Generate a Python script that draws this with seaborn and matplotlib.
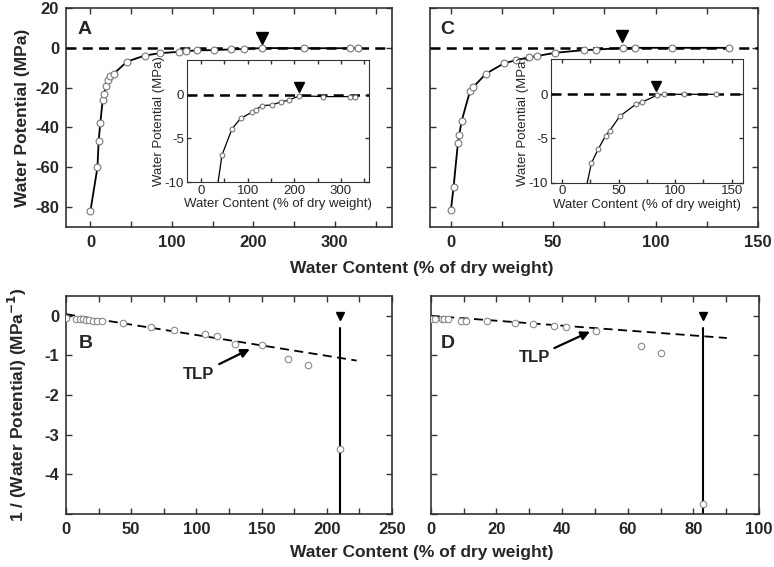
import matplotlib
matplotlib.use("Agg")
import matplotlib.pyplot as plt
import seaborn as sns
from matplotlib.ticker import MultipleLocator
from matplotlib.transforms import offset_copy

# A: water potential (MPa) vs water content (% dry weight), sample 1
wc_A = [0, 8.6, 10, 12, 15, 17, 19, 21.6, 24.5, 28.6, 45, 66.5, 85, 109, 117.6,
        131, 152, 172, 189, 211, 262, 319, 329]
psi_A = [-81.8, -60, -47, -38, -26.4, -23, -19, -16, -14, -13, -6.9, -3.9, -2.7,
         -2.0, -1.7, -1.25, -1.15, -0.8, -0.6, -0.1, -0.2, -0.2, -0.2]
tlp_A = 210

# C: sample 2
wc_C = [0.2, 1.5, 3.6, 4.2, 5.4, 9.5, 11, 17.3, 26, 31.8, 38.5, 42, 51, 65, 71,
        84, 90, 108, 136]
psi_C = [-81.4, -69.7, -47.8, -44, -36.8, -21.7, -19.8, -13, -7.8, -6.25, -4.7,
         -4.15, -2.5, -1.15, -0.87, -0.1, 0, 0, 0]
tlp_C = 83.5

# B: 1/psi vs water content, sample 1
wc_B = [0, 8, 10.5, 13, 15, 18, 21, 24, 27.5, 44, 65, 83, 107, 116, 130, 150,
        170, 186, 210]
inv_B = [-0.06, -0.07, -0.08, -0.09, -0.1, -0.11, -0.12, -0.13, -0.14, -0.19,
         -0.29, -0.37, -0.46, -0.52, -0.71, -0.73, -1.08, -1.24, -3.37]
fit_B_x = [0, 223]
fit_B_y = [0.04, -1.13]
tlp_B_point = (141, -0.84)
tlp_B_text = (102, -1.47)

# D: 1/psi vs water content, sample 2
wc_D = [0, 1.3, 3.4, 4.1, 5.2, 9.2, 10.7, 17, 25.7, 31.3, 37.6, 41.2, 50.5,
        64, 70.3, 83]
inv_D = [-0.075, -0.075, -0.08, -0.08, -0.085, -0.12, -0.12, -0.14, -0.18, -0.21,
         -0.25, -0.28, -0.39, -0.76, -0.95, -4.75]
fit_D_x = [0, 90.2]
fit_D_y = [0.0, -0.56]
tlp_D_point = (48.5, -0.4)
tlp_D_text = (31.5, -1.05)

xlabel = "Water Content (% of dry weight)"

sns.set_style("ticks")
plt.rcParams["font.family"] = ["Liberation Sans", "DejaVu Sans"]
plt.rcParams["axes.edgecolor"] = "#333333"
plt.rcParams["axes.unicode_minus"] = False

fig = plt.figure(figsize=(7.74, 5.67), dpi=100)


def style(ax, major_x, minor_x, major_y, fs=12, bold=True, lw=1.2, length=4):
    ax.xaxis.set_major_locator(MultipleLocator(major_x))
    ax.xaxis.set_minor_locator(MultipleLocator(minor_x))
    ax.yaxis.set_major_locator(MultipleLocator(major_y))
    ax.tick_params(which="both", direction="in", top=True, right=True,
                   length=length, width=1, color="#333333")
    ax.tick_params(axis="x", pad=6 if bold else 2)
    ax.tick_params(axis="y", pad=5 if bold else 2)
    for lab in ax.get_xticklabels() + ax.get_yticklabels():
        lab.set_fontsize(fs)
        lab.set_fontweight("bold" if bold else "normal")
    for sp in ax.spines.values():
        sp.set_linewidth(lw)
        sp.set_visible(True)


def curve(ax, x, y, tlp, s, lw, mark_up, tri_size):
    sns.lineplot(x=x, y=y, ax=ax, color="black", lw=lw, sort=False,
                 estimator=None, zorder=2)
    ax.axhline(0, color="black", lw=1.8, dashes=(4, 2.5), zorder=3)
    sns.scatterplot(x=x, y=y, ax=ax, s=s, color="white", edgecolor="#777777",
                    linewidth=0.8, zorder=4)
    tr = offset_copy(ax.transData, fig=fig, y=mark_up, units="dots")
    ax.plot([tlp], [0], marker="v", color="black", markersize=tri_size,
            transform=tr, clip_on=False, zorder=5)
    ax.set_xlabel("")
    ax.set_ylabel("")


# ---- panel A
axA = fig.add_axes([0.0853, 0.5996, 0.421, 0.3863])
curve(axA, wc_A, psi_A, tlp_A, 24, 1.3, 10, 8)
axA.set_xlim(-30, 370)
axA.set_ylim(-90, 20)
style(axA, 100, 50, 20)
axA.text(0.035, 0.9, "A", transform=axA.transAxes, fontsize=14,
         fontweight="bold", va="center")
axA.set_ylabel("Water Potential (MPa)", fontsize=12.5, fontweight="bold",
               labelpad=4)

insA = fig.add_axes([0.2416, 0.679, 0.2351, 0.2152])
curve(insA, wc_A, psi_A, tlp_A, 12, 0.9, 8, 7)
insA.set_xlim(-30, 360)
insA.set_ylim(-10, 4)
style(insA, 100, 50, 5, fs=9.5, bold=False, lw=0.8, length=3)
insA.set_yticks([-10, -5, 0])
insA.set_xlabel(xlabel, fontsize=9.5, labelpad=1)
insA.set_ylabel("Water Potential (MPa)", fontsize=9.5, labelpad=0)

# ---- panel C
axC = fig.add_axes([0.5556, 0.5996, 0.4238, 0.3863])
curve(axC, wc_C, psi_C, tlp_C, 24, 1.3, 12, 8)
axC.set_xlim(-10, 150)
axC.set_ylim(-90, 20)
style(axC, 50, 25, 20)
axC.set_yticklabels([])
axC.text(0.03, 0.9, "C", transform=axC.transAxes, fontsize=14,
         fontweight="bold", va="center")

insC = fig.add_axes([0.7115, 0.678, 0.2485, 0.218])
curve(insC, wc_C, psi_C, tlp_C, 12, 0.9, 8, 7)
insC.set_xlim(-10, 160)
insC.set_ylim(-10, 4)
style(insC, 50, 25, 5, fs=9.5, bold=False, lw=0.8, length=3)
insC.set_yticks([-10, -5, 0])
insC.set_xlabel(xlabel, fontsize=9.5, labelpad=1)
insC.set_ylabel("Water Potential (MPa)", fontsize=9.5, labelpad=0)


def inverse_panel(ax, x, y, fx, fy, tlp_pt, tlp_txt):
    sns.lineplot(x=fx, y=fy, ax=ax, color="black", lw=1.3, sort=False,
                 estimator=None, zorder=2).lines[0].set_dashes((5, 3))
    ax.axvline(x[-1], ymax=(-0.3 + 5) / 5.5, color="black", lw=1.5, zorder=2)
    ax.plot([x[-1]], [0], marker="v", color="black", markersize=6, zorder=5)
    sns.scatterplot(x=x, y=y, ax=ax, s=22, color="white", edgecolor="#8a8a8a",
                    linewidth=0.8, zorder=4)
    ax.annotate("TLP", xy=tlp_pt, xytext=tlp_txt, ha="center", va="center",
                fontsize=12, fontweight="bold",
                arrowprops=dict(arrowstyle="-|>", color="black", lw=1.6,
                                mutation_scale=13, shrinkA=1, shrinkB=0))
    ax.set_ylim(-5, 0.5)
    ax.set_xlabel("")
    ax.set_ylabel("")


# ---- panel B
axB = fig.add_axes([0.0853, 0.0935, 0.421, 0.3845])
inverse_panel(axB, wc_B, inv_B, fit_B_x, fit_B_y, tlp_B_point, tlp_B_text)
axB.set_xlim(0, 250)
style(axB, 50, 25, 1)
axB.set_yticks([-4, -3, -2, -1, 0])
axB.yaxis.set_minor_locator(MultipleLocator(1))
for lab in axB.get_yticklabels():
    lab.set_fontsize(12)
    lab.set_fontweight("bold")
axB.text(0.04, 0.78, "B", transform=axB.transAxes, fontsize=14,
         fontweight="bold", va="center")
axB.set_ylabel("1 / (Water Potential) (MPa$^{\\mathbf{-1}}$)", fontsize=12.5,
               fontweight="bold", labelpad=11)

# ---- panel D
axD = fig.add_axes([0.5565, 0.0935, 0.4241, 0.3845])
inverse_panel(axD, wc_D, inv_D, fit_D_x, fit_D_y, tlp_D_point, tlp_D_text)
axD.set_xlim(0, 100)
style(axD, 20, 10, 1)
axD.yaxis.set_minor_locator(MultipleLocator(1))
axD.set_yticklabels([])
axD.text(0.03, 0.78, "D", transform=axD.transAxes, fontsize=14,
         fontweight="bold", va="center")

fig.text(0.545, 0.527, xlabel, ha="center", va="center", fontsize=12.5,
         fontweight="bold")
fig.text(0.545, 0.025, xlabel, ha="center", va="center", fontsize=12.5,
         fontweight="bold")

fig.savefig("out.png", dpi=100)
